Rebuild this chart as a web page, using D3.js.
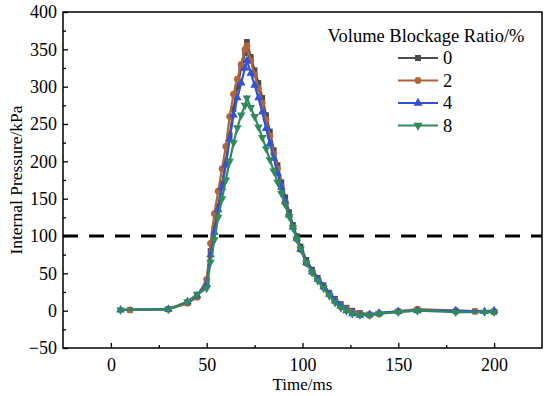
<!DOCTYPE html>
<html>
<head>
<meta charset="utf-8">
<title>Internal Pressure vs Time</title>
<style>
  body { margin: 0; background: #fff; }
  svg, svg text { font-family: "Liberation Serif", "Times New Roman", serif; }
  svg { display: block; }
</style>
</head>
<body>
<div id="chart"></div>
<script src="https://cdn.jsdelivr.net/npm/d3@7"></script>
<script>
// time axis (ms) for each series
const timeA = [10, 30, 40, 45, 50, 52, 54, 56, 58, 60, 62, 64, 66, 68, 70, 71, 73, 75, 77, 79, 81, 83, 85, 87, 89, 91, 93, 95, 97, 99, 102, 105, 108, 111, 114, 117, 120, 123, 126, 130, 135, 140, 150, 160, 180, 190, 200];
const timeB = [5, 30, 40, 45, 50, 52, 54, 56, 58, 60, 62, 64, 66, 68, 70, 71, 73, 75, 77, 79, 81, 83, 85, 87, 89, 91, 93, 95, 97, 99, 102, 105, 108, 111, 114, 117, 120, 123, 126, 130, 135, 140, 150, 160, 180, 195, 200];

// internal pressure (kPa) per volume blockage ratio
const ratio0 = [1, 2, 10, 20, 40, 80, 110, 140, 170, 200, 235, 270, 300, 325, 345, 360, 340, 322, 305, 285, 262, 240, 215, 195, 172, 152, 132, 115, 100, 86, 68, 55, 44, 34, 24, 16, 9, 4, 0, -3, -5, -4, -1, 1, -1, -1, -2];
const ratio2 = [1, 2, 10, 18, 42, 90, 130, 160, 190, 220, 260, 290, 310, 330, 350, 355, 335, 316, 298, 278, 256, 234, 210, 190, 166, 146, 128, 112, 96, 82, 64, 52, 42, 32, 22, 14, 7, 2, -2, -4, -6, -4, -1, 2, 0, -1, -1];
const ratio4 = [1, 2, 12, 20, 35, 75, 105, 135, 165, 195, 230, 262, 285, 305, 325, 335, 318, 302, 285, 266, 244, 224, 204, 184, 165, 146, 128, 112, 97, 82, 64, 52, 42, 32, 22, 13, 6, 0, -4, -6, -5, -3, -1, 0, 0, -1, 0];
const ratio8 = [1, 2, 12, 22, 30, 65, 95, 125, 150, 175, 200, 225, 245, 262, 275, 285, 272, 260, 246, 232, 217, 202, 187, 172, 157, 142, 126, 111, 96, 83, 64, 51, 40, 30, 20, 11, 4, 0, -4, -6, -6, -4, -2, 0, -2, -2, -2];

const seriesNames = ["0", "2", "4", "8"];
const seriesTimes = [timeA, timeA, timeB, timeB];
const seriesValues = [ratio0, ratio2, ratio4, ratio8];
const seriesColors = ["#4a4a4a", "#b0643c", "#3352d6", "#2f8a5c"];
const seriesSymbols = [d3.symbolSquare, d3.symbolCircle, d3.symbolTriangle, d3.symbolTriangle];

const xTicks = [0, 50, 100, 150, 200];
const yTicks = [-50, 0, 50, 100, 150, 200, 250, 300, 350, 400];
const threshold = 100;

const width = 550, height = 396;
const margin = {top: 12, right: 8, bottom: 48, left: 63};
const serif = "'Liberation Serif', 'Times New Roman', serif";

const svg = d3.select("#chart").append("svg")
  .attr("width", width)
  .attr("height", height);

const x = d3.scaleLinear().domain([-25, 225]).range([margin.left, width - margin.right]);
const y = d3.scaleLinear().domain([-50, 400]).range([height - margin.bottom, margin.top]);

// axes, ticks pointing inward
svg.append("g")
  .attr("transform", `translate(0,${y(-50)})`)
  .call(d3.axisBottom(x).tickValues(xTicks).tickSize(-5).tickPadding(10).tickSizeOuter(0));
svg.append("g")
  .attr("transform", `translate(0,${y(-50)})`)
  .call(d3.axisBottom(x).tickValues(d3.range(25, 225, 50)).tickSize(-3).tickFormat("").tickSizeOuter(0));

svg.append("g")
  .attr("transform", `translate(${x(-25)},0)`)
  .call(d3.axisLeft(y).tickValues(yTicks).tickSize(-5).tickPadding(6).tickSizeOuter(0)
    .tickFormat(d => d < 0 ? "\u2212" + Math.abs(d) : d));
svg.append("g")
  .attr("transform", `translate(${x(-25)},0)`)
  .call(d3.axisLeft(y).tickValues(d3.range(-25, 400, 50)).tickSize(-3).tickFormat("").tickSizeOuter(0));

svg.selectAll("g").attr("font-family", serif);
svg.selectAll(".tick text").attr("font-size", 18).attr("fill", "#000");
svg.selectAll(".tick line").attr("stroke", "#000").attr("stroke-width", 1.3);
svg.selectAll(".domain").remove();

// frame
svg.append("rect")
  .attr("x", x(-25)).attr("y", y(400))
  .attr("width", x(225) - x(-25)).attr("height", y(-50) - y(400))
  .attr("fill", "none").attr("stroke", "#000").attr("stroke-width", 1.5);

// threshold
svg.append("line")
  .attr("x1", x(-25)).attr("x2", x(225))
  .attr("y1", y(threshold)).attr("y2", y(threshold))
  .attr("stroke", "#000").attr("stroke-width", 2.8)
  .attr("stroke-dasharray", "15,11");

// series
const line = d3.line().x(d => x(d[0])).y(d => y(d[1]));

seriesNames.forEach((name, i) => {
  const pts = seriesTimes[i].map((t, j) => [t, seriesValues[i][j]]);
  const g = svg.append("g");
  g.append("path")
    .datum(pts)
    .attr("d", line)
    .attr("fill", "none")
    .attr("stroke", seriesColors[i])
    .attr("stroke-width", 2.2);
  g.selectAll("path.m")
    .data(pts)
    .join("path")
    .attr("class", "m")
    .attr("d", d3.symbol().type(seriesSymbols[i]).size(i === 1 ? 36 : 32))
    .attr("transform", d => `translate(${x(d[0])},${y(d[1])})` + (i === 3 ? " rotate(180)" : ""))
    .attr("fill", seriesColors[i]);
});

// axis titles
svg.append("text")
  .attr("x", (x(-25) + x(225)) / 2)
  .attr("y", 390)
  .attr("text-anchor", "middle")
  .attr("font-size", 17)
  .text("Time/ms");

svg.append("text")
  .attr("transform", `translate(22,${(y(400) + y(-50)) / 2}) rotate(-90)`)
  .attr("text-anchor", "middle")
  .attr("font-size", 17.5)
  .text("Internal Pressure/kPa");

// legend
const legend = svg.append("g");
legend.append("text")
  .attr("x", 426).attr("y", 42)
  .attr("text-anchor", "middle")
  .attr("font-size", 18.5)
  .text("Volume Blockage Ratio/%");

seriesNames.forEach((name, i) => {
  const ly = 58 + i * 22.5;
  legend.append("line")
    .attr("x1", 398).attr("x2", 438)
    .attr("y1", ly).attr("y2", ly)
    .attr("stroke", seriesColors[i]).attr("stroke-width", 2.2);
  legend.append("path")
    .attr("d", d3.symbol().type(seriesSymbols[i]).size(36))
    .attr("transform", `translate(418,${ly})` + (i === 3 ? " rotate(180)" : ""))
    .attr("fill", seriesColors[i]);
  legend.append("text")
    .attr("x", 443).attr("y", ly + 6)
    .attr("font-size", 18.5)
    .text(name);
});
</script>
</body>
</html>
